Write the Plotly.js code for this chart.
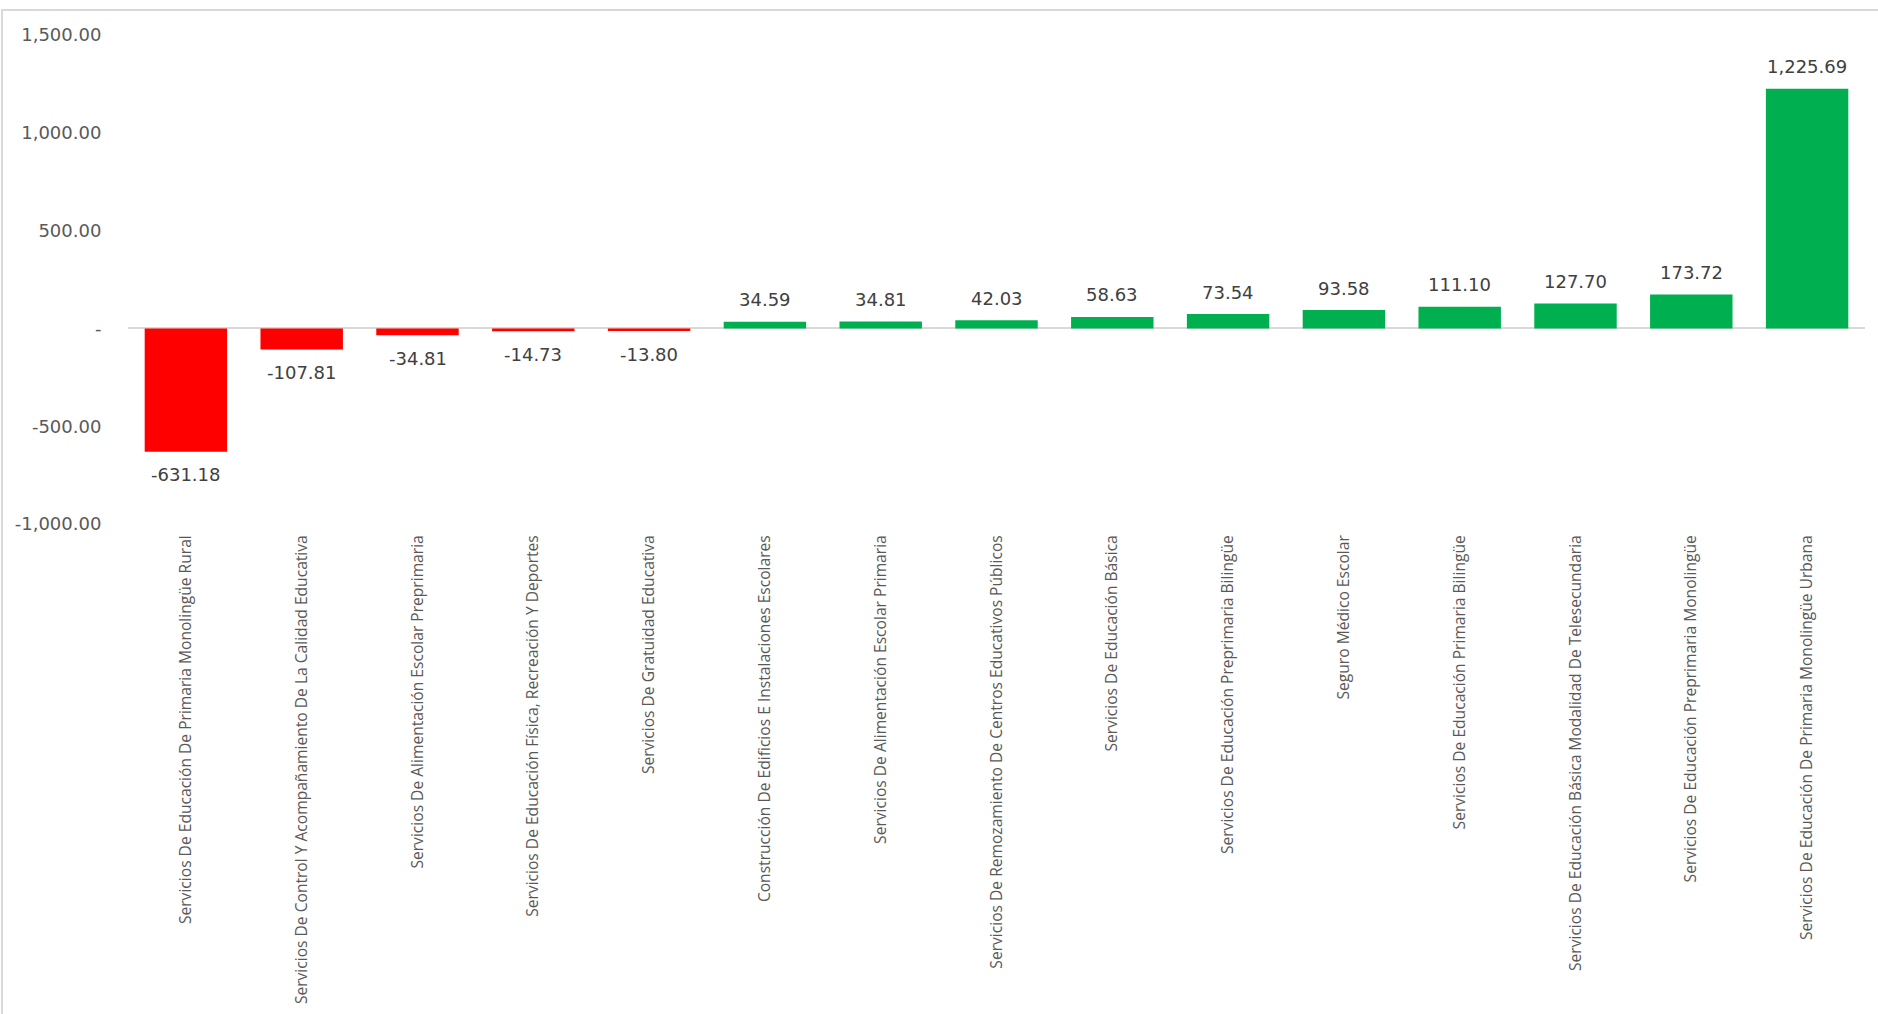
<!DOCTYPE html>
<html>
<head>
<meta charset="utf-8">
<script src="https://cdn.plot.ly/plotly-3.0.1.min.js"></script>
<style>
  body { margin: 0; background: #ffffff; overflow: hidden; }
  #plot-id { position: absolute; left: 0; top: 0; width: 1878px; height: 1014px; }
  #frame { position: absolute; left: 1px; top: 9px; width: 1920px; height: 1100px;
           border: 2px solid #d9d9d9; pointer-events: none; }
</style>
</head>
<body>
<div id="plot-id"></div>
<div id="frame"></div>
<script>
// Categories (already sorted by value, as in the reference)
var categorias = [
    "Servicios De Educación De Primaria Monolingüe Rural",
    "Servicios De Control Y Acompañamiento De La Calidad Educativa",
    "Servicios De Alimentación Escolar Preprimaria",
    "Servicios De Educación Física, Recreación Y Deportes",
    "Servicios De Gratuidad Educativa",
    "Construcción De Edificios E Instalaciones Escolares",
    "Servicios De Alimentación Escolar Primaria",
    "Servicios De Remozamiento De Centros Educativos Públicos",
    "Servicios De Educación Básica",
    "Servicios De Educación Preprimaria Bilingüe",
    "Seguro Médico Escolar",
    "Servicios De Educación Primaria Bilingüe",
    "Servicios De Educación Básica Modalidad De Telesecundaria",
    "Servicios De Educación Preprimaria Monolingüe",
    "Servicios De Educación De Primaria Monolingüe Urbana"
];

var variacion = [-631.18, -107.81, -34.81, -14.73, -13.80, 34.59, 34.81, 42.03,
                 58.63, 73.54, 93.58, 111.10, 127.70, 173.72, 1225.69];

// y axis ticks (Excel accounting style, zero shown as "-")
var yTickVals = [-1000, -500, 0, 500, 1000, 1500];
var yTickText = ["-1,000.00", "-500.00", "-", "500.00", "1,000.00", "1,500.00"];

var barColors = variacion.map(function (v) { return v < 0 ? "#FF0000" : "#00B050"; });

function fmt(v) {
    return v.toLocaleString("en-US", { minimumFractionDigits: 2, maximumFractionDigits: 2 });
}

var trace1 = {
    x: categorias,
    y: variacion,
    type: "bar",
    marker: { color: barColors, line: { width: 0 } },
    hoverinfo: "x+y"
};

// data labels, offset a bit from the bar end like Excel does
var labels = categorias.map(function (c, i) {
    var v = variacion[i];
    return {
        x: c,
        y: v,
        xref: "x",
        yref: "y",
        text: fmt(v),
        showarrow: false,
        yanchor: "middle",
        yshift: v >= 0 ? 22 : -23,
        font: { family: "DejaVu Sans, sans-serif", size: 18, color: "#404040" }
    };
});

var layout = {
    width: 1878,
    height: 1014,
    showlegend: false,
    paper_bgcolor: "rgba(0,0,0,0)",
    plot_bgcolor: "#ffffff",
    bargap: 0.288,
    font: { family: "Open Sans, sans-serif", color: "#595959" },
    annotations: labels,
    xaxis: {
        type: "category",
        tickangle: -90,
        ticks: "outside",
        ticklen: 4,
        tickcolor: "rgba(0,0,0,0)",
        tickfont: { family: "Open Sans, sans-serif", size: 15.6, color: "#595959" },
        showgrid: false,
        showline: false,
        zeroline: false
    },
    yaxis: {
        range: [-1000, 1500],
        tickvals: yTickVals,
        ticktext: yTickText,
        ticks: "outside",
        ticklen: 22,
        tickcolor: "rgba(0,0,0,0)",
        tickfont: { family: "DejaVu Sans, sans-serif", size: 18, color: "#595959" },
        showgrid: false,
        showline: false,
        zeroline: true,
        zerolinecolor: "#d9d9d9",
        zerolinewidth: 2
    },
    margin: { t: 35, l: 128, r: 13, b: 490 }
};

Plotly.newPlot("plot-id", [trace1], layout, { displayModeBar: false, staticPlot: true });
</script>
</body>
</html>
